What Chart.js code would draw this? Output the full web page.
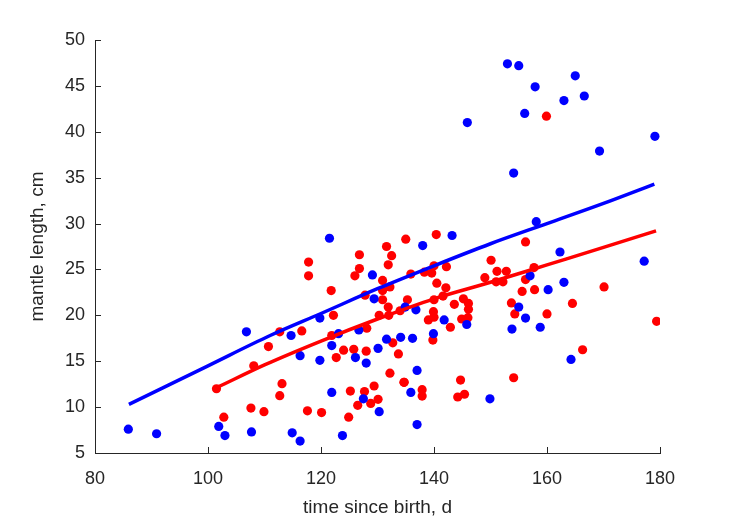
<!DOCTYPE html>
<html>
<head>
<meta charset="utf-8">
<script src="https://cdn.jsdelivr.net/npm/chart.js@4/dist/chart.umd.min.js"></script>
<style>
    html, body { margin: 0; padding: 0; background: #fff; }
    #wrap { width: 729px; height: 521px; }
</style>
</head>
<body>
<div id="wrap"><canvas id="mantleChart" width="729" height="521"></canvas></div>
<script>
// red group: observed points (time since birth, mantle length)
const redX = [101.5, 102.8, 107.6, 109.9, 108.1, 110.7, 112.7, 116.6, 117.8, 117.8, 121.8, 122.2, 121.9, 122.7,
    124.0, 125.8, 126.0, 126.8, 126.8, 127.8, 128.1, 128.0, 130.9, 130.9, 130.9, 130.3, 131.6, 131.9, 131.9,
    132.0, 132.2, 132.5, 132.7, 133.7, 132.2, 134.0, 134.7, 135.0, 135.3, 135.9, 138.3, 139.0, 139.6, 139.8,
    139.9, 140.0, 140.0, 140.0, 140.4, 140.5, 141.6, 142.1, 142.2, 142.9, 143.6, 144.9, 145.2, 146.1, 146.1,
    146.0, 113.1, 112.7, 117.6, 120.1, 124.9, 125.2, 126.5, 127.7, 128.8, 129.4, 130.1, 134.7, 137.9, 137.9,
    144.7, 144.2, 145.4, 149.0, 150.1, 151.0, 151.15, 152.2, 152.8, 153.7, 154.1, 154.3, 155.6, 156.2, 156.2,
    157.7, 157.8, 159.9, 160.0, 164.5, 166.3, 170.1, 179.4];
const redY = [12.0, 8.9, 9.9, 9.5, 14.5, 16.6, 18.2, 18.3, 25.8, 24.3, 22.7, 20.0, 17.8, 15.4,
    16.2, 16.3, 24.3, 26.6, 25.1, 22.2, 18.6, 16.1, 23.8, 22.7, 21.7, 20.0, 27.5, 25.5, 20.9,
    20.0, 23.1, 26.5, 17.0, 15.8, 13.7, 20.5, 12.7, 28.3, 21.7, 24.5, 24.7, 19.5, 24.6, 17.3,
    20.4, 25.4, 21.7, 19.8, 28.8, 23.5, 22.1, 23.0, 25.3, 18.7, 21.2, 19.6, 21.8, 21.3, 20.65,
    19.75, 12.55, 11.25, 9.6, 9.4, 8.9, 11.75, 10.2, 11.7, 10.4, 12.3, 10.85, 12.7, 11.9, 11.2,
    12.95, 11.1, 11.4, 24.1, 26.0, 23.65, 24.8, 23.65, 24.8, 21.35, 13.2, 20.15, 22.6, 28.0, 23.9,
    25.2, 22.8, 41.7, 20.15, 21.3, 16.25, 23.1, 19.35];

// blue group: observed points
const blueX = [85.9, 90.9, 101.9, 103.0, 106.8, 107.7, 114.7, 114.9, 116.3, 116.3, 119.8, 119.8, 121.5, 121.9,
    121.9, 123.1, 123.8, 126.1, 126.7, 127.5, 128.0, 129.1, 129.4, 130.1, 130.3, 131.6, 134.1, 134.9, 135.9,
    136.2, 136.8, 137.0, 137.0, 138.0, 139.9, 141.8, 143.2, 145.8, 145.9, 149.9, 153.0, 153.8, 154.1, 155.0,
    155.0, 156.05, 156.2, 157.0, 157.9, 158.1, 158.8, 160.2, 162.3, 163.0, 163.0, 164.25, 165.0, 166.6, 169.3,
    177.2, 179.1];
const blueY = [7.6, 7.1, 7.9, 6.9, 18.2, 7.3, 17.8, 7.2, 15.6, 6.3, 19.7, 15.1, 28.4, 16.7,
    11.6, 18.0, 6.9, 15.4, 18.4, 10.9, 14.8, 24.4, 21.8, 16.4, 9.5, 17.4, 17.6, 20.9, 11.6,
    17.5, 20.6, 14.0, 8.1, 27.6, 18.0, 19.5, 28.7, 19.0, 41.0, 10.9, 47.4, 18.5, 35.5, 47.2,
    20.9, 42.0, 19.7, 24.3, 44.9, 30.2, 18.7, 22.8, 26.9, 43.4, 23.6, 15.2, 46.1, 43.9, 37.9,
    25.9, 39.5];

// fitted growth curves
const redFitX = [101.8, 110, 120, 130, 140, 150, 160, 170, 179.3];
const redFitY = [12.2, 14.6, 17.2, 19.6, 21.8, 23.6, 25.5, 27.4, 29.2];
const blueFitX = [86, 100, 111, 120, 130, 140, 150, 160, 170, 179];
const blueFitY = [10.3, 14.5, 17.8, 20.2, 22.9, 25.4, 27.8, 30.0, 32.2, 34.3];

const RED = '#ff0000';
const BLUE = '#0000ff';
const INK = '#262626';
const FONT = '"Liberation Sans", Arial, Helvetica, sans-serif';

const toPoints = (xs, ys) => xs.map((x, i) => ({ x, y: ys[i] }));

// MATLAB style ticks pointing into the plot
const inwardTicks = {
    id: 'inwardTicks',
    afterDatasetsDraw(chart) {
        const { ctx, chartArea, scales } = chart;
        ctx.save();
        ctx.strokeStyle = INK;
        ctx.lineWidth = 1;
        scales.x.ticks.forEach(t => {
            const px = Math.round(scales.x.getPixelForValue(t.value)) + 0.5;
            ctx.beginPath();
            ctx.moveTo(px, chartArea.bottom);
            ctx.lineTo(px, chartArea.bottom - 6);
            ctx.stroke();
        });
        scales.y.ticks.forEach(t => {
            const py = Math.round(scales.y.getPixelForValue(t.value)) + 0.5;
            ctx.beginPath();
            ctx.moveTo(chartArea.left, py);
            ctx.lineTo(chartArea.left + 6, py);
            ctx.stroke();
        });
        ctx.restore();
    }
};

new Chart(document.getElementById('mantleChart').getContext('2d'), {
    type: 'scatter',
    data: {
        datasets: [
            { label: 'red points', data: toPoints(redX, redY), backgroundColor: RED, borderColor: RED,
              pointRadius: 4.6, borderWidth: 0, order: 4 },
            { label: 'blue points', data: toPoints(blueX, blueY), backgroundColor: BLUE, borderColor: BLUE,
              pointRadius: 4.6, borderWidth: 0, order: 3 },
            { label: 'red fit', data: toPoints(redFitX, redFitY), showLine: true, borderColor: RED,
              borderWidth: 3.5, pointRadius: 0, tension: 0.4, cubicInterpolationMode: 'monotone', order: 2 },
            { label: 'blue fit', data: toPoints(blueFitX, blueFitY), showLine: true, borderColor: BLUE,
              borderWidth: 3.5, pointRadius: 0, tension: 0.4, cubicInterpolationMode: 'monotone', order: 1 },
        ],
    },
    options: {
        responsive: false,
        animation: false,
        layout: { padding: { top: 40, right: 69, left: 26, bottom: 0 } },
        plugins: { legend: { display: false }, tooltip: { enabled: false } },
        scales: {
            x: {
                type: 'linear', min: 80, max: 180,
                ticks: { stepSize: 20, color: INK, padding: 15, font: { family: FONT, size: 18 } },
                grid: { display: false, drawTicks: false },
                border: { display: true, color: INK, width: 1 },
                title: { display: true, text: 'time since birth, d', color: INK, padding: { top: 0, bottom: 2 },
                         font: { family: FONT, size: 19 } },
                afterFit(scale) { scale.height = 68; },
            },
            y: {
                type: 'linear', min: 5, max: 50,
                ticks: { stepSize: 5, color: INK, padding: 10, font: { family: FONT, size: 18 } },
                grid: { display: false, drawTicks: false },
                border: { display: true, color: INK, width: 1 },
                title: { display: true, text: 'mantle length, cm', color: INK, padding: { top: 0, bottom: 0 },
                         font: { family: FONT, size: 19 } },
                afterFit(scale) { scale.width = 69; },
            },
        },
    },
    plugins: [inwardTicks],
});
</script>
</body>
</html>
